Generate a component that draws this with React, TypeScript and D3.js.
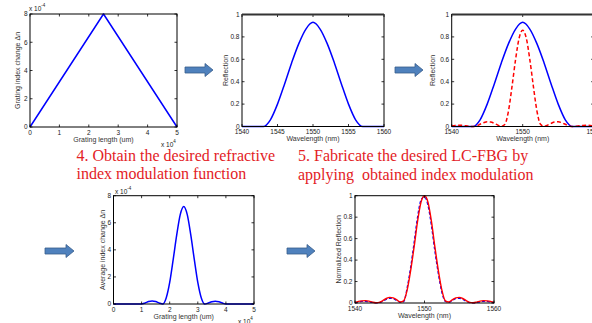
import * as d3 from 'd3';

// step 1: designed index profile (x 1e4 um, x 1e-4)
const triLen = [0, 2.5, 5];
const triDn = [0, 8, 0];

// step 2: reflection of the triangular profile
const wlCoarse = [1540, 1541, 1542, 1543, 1544, 1545, 1546, 1547, 1548, 1549, 1550, 1551, 1552, 1553, 1554, 1555, 1556, 1557, 1558, 1559, 1560];
const reflDesign = [0, 0, 0, 0, 0.06, 0.2, 0.38, 0.57, 0.74, 0.87, 0.93, 0.87, 0.74, 0.57, 0.38, 0.2, 0.06, 0, 0, 0, 0];

// step 3: target spectrum (red dashed)
const wlFine = [
  1540, 1540.5, 1541, 1541.5, 1542, 1542.5, 1543, 1543.5, 1544, 1544.5,
  1545, 1545.5, 1546, 1546.5, 1547, 1547.5, 1548, 1548.5, 1549, 1549.5,
  1550, 1550.5, 1551, 1551.5, 1552, 1552.5, 1553, 1553.5, 1554, 1554.5,
  1555, 1555.5, 1556, 1556.5, 1557, 1557.5, 1558, 1558.5, 1559, 1559.5, 1560,
];
const reflTarget = [
  0.005, 0.01, 0.012, 0.01, 0.006, 0.002, 0, 0.006, 0.02, 0.034,
  0.042, 0.04, 0.028, 0.012, 0.002, 0.02, 0.14, 0.36, 0.6, 0.79,
  0.86, 0.79, 0.6, 0.36, 0.14, 0.02, 0.002, 0.012, 0.028, 0.04,
  0.042, 0.034, 0.02, 0.006, 0, 0.002, 0.006, 0.01, 0.012, 0.01, 0.005,
];

// step 4: obtained index modulation
const lenApod = [0, 0.5, 1.0, 1.125, 1.25, 1.375, 1.5, 1.625, 1.75, 1.875, 2.0, 2.125, 2.25, 2.375, 2.5, 2.625, 2.75, 2.875, 3.0, 3.125, 3.25, 3.375, 3.5, 3.625, 3.75, 3.875, 4.0, 4.5, 5];
const dnApod = [0, 0, 0, 0.08, 0.18, 0.22, 0.18, 0.08, 0, 0.45, 1.6, 3.3, 5.1, 6.6, 7.2, 6.6, 5.1, 3.3, 1.6, 0.45, 0, 0.08, 0.17, 0.2, 0.16, 0.07, 0, 0, 0];

// step 5: fabricated grating, normalized
const reflFab = [
  0.005, 0.015, 0.02, 0.022, 0.018, 0.008, 0.002, 0.006, 0.022, 0.042,
  0.052, 0.048, 0.03, 0.01, 0.02, 0.12, 0.3, 0.52, 0.76, 0.94,
  1.0, 0.94, 0.76, 0.52, 0.3, 0.12, 0.02, 0.01, 0.03, 0.048,
  0.052, 0.042, 0.022, 0.006, 0.002, 0.008, 0.018, 0.022, 0.02, 0.015, 0.005,
];
const reflSim = [
  0.002, 0.01, 0.015, 0.016, 0.012, 0.005, 0.001, 0.004, 0.016, 0.034,
  0.044, 0.04, 0.024, 0.007, 0.012, 0.14, 0.33, 0.56, 0.8, 0.96,
  0.99, 0.91, 0.72, 0.48, 0.27, 0.1, 0.015, 0.007, 0.024, 0.04,
  0.044, 0.034, 0.016, 0.004, 0.001, 0.005, 0.012, 0.016, 0.015, 0.01, 0.002,
];

const lengthTicks = [0, 1, 2, 3, 4, 5];
const dnTicks = [0, 2, 4, 6, 8];
const wlTicks = [1540, 1545, 1550, 1555, 1560];
const wlTicksSparse = [1540, 1550, 1560];
const reflTicks = [0, 0.2, 0.4, 0.6, 0.8, 1];

const SANS = '"Liberation Sans", Arial, sans-serif';
const SERIF = '"Liberation Serif", "Times New Roman", serif';
const RED_TEXT = '#e3211f';

type Series = { xs: number[]; ys: number[]; color: string; dash?: string; width?: number; linear?: boolean };

interface PanelProps {
  box: [number, number, number, number];
  xDomain: [number, number];
  yDomain: [number, number];
  xTicks: number[];
  yTicks: number[];
  xLabel: string;
  yLabel: string;
  yLabelX: number;
  series: Series[];
  topWidth?: number;
}

function Panel({ box, xDomain, yDomain, xTicks, yTicks, xLabel, yLabel, yLabelX, series, topWidth = 1 }: PanelProps) {
  const [l, t, r, b] = box;
  const x = d3.scaleLinear().domain(xDomain).range([l, r]);
  const y = d3.scaleLinear().domain(yDomain).range([b, t]);
  const tk = 2.5;

  return (
    <g>
      {series.map((s, k) => {
        const line = d3.line<number>()
          .x((_, i) => x(s.xs[i]))
          .y((d) => y(d))
          .curve(s.linear ? d3.curveLinear : d3.curveMonotoneX);
        return (
          <path key={k} d={line(s.ys) ?? ''} fill="none" stroke={s.color}
            strokeWidth={s.width ?? 1.5} strokeDasharray={s.dash} strokeLinejoin="round" />
        );
      })}
      {xTicks.map((v) => (
        <g key={'x' + v}>
          <line x1={x(v)} x2={x(v)} y1={b} y2={b - tk} stroke="#000" strokeWidth={0.8} />
          <line x1={x(v)} x2={x(v)} y1={t} y2={t + tk} stroke="#000" strokeWidth={0.8} />
          <text x={x(v)} y={b + 7.5} textAnchor="middle" fontSize={6.5} fill="#222">{String(v)}</text>
        </g>
      ))}
      {yTicks.map((v) => (
        <g key={'y' + v}>
          <line x1={l} x2={l + tk} y1={y(v)} y2={y(v)} stroke="#000" strokeWidth={0.8} />
          <line x1={r} x2={r - tk} y1={y(v)} y2={y(v)} stroke="#000" strokeWidth={0.8} />
          <text x={l - 2.5} y={y(v)} dy="0.35em" textAnchor="end" fontSize={6.5} fill="#222">{String(v)}</text>
        </g>
      ))}
      <rect x={l} y={t} width={r - l} height={b - t} fill="none" stroke="#000" strokeWidth={1} />
      {topWidth > 1 && <line x1={l} x2={r} y1={t} y2={t} stroke="#333" strokeWidth={topWidth} />}
      <text x={(l + r) / 2} y={b + 14.5} textAnchor="middle" fontSize={7} fill="#333">{xLabel}</text>
      <text transform={`translate(${yLabelX},${(t + b) / 2}) rotate(-90)`} textAnchor="middle" fontSize={7} fill="#333">{yLabel}</text>
    </g>
  );
}

function Mult({ x, y, exp }: { x: number; y: number; exp: string }) {
  return (
    <text x={x} y={y} fontSize={6.5} fill="#222">
      x 10<tspan dy={-4.5} fontSize={4.5}>{exp}</tspan>
    </text>
  );
}

function Arrow({ x, y, len }: { x: number; y: number; len: number }) {
  const h = 8;
  const d = `M${x},${y - 3}L${x + len - h},${y - 3}L${x + len - h},${y - 6.5}L${x + len},${y}L${x + len - h},${y + 6.5}L${x + len - h},${y + 3}L${x},${y + 3}Z`;
  return <path d={d} fill="#4f81bd" stroke="#385d8a" strokeWidth={0.8} />;
}

export default function App() {
  return (
    <svg width={592} height={323} viewBox="0 0 592 323"
      style={{ position: 'absolute', left: 0, top: 0, background: '#fff', overflow: 'hidden' }}
      fontFamily={SANS}>
      <Panel box={[30, 14, 177, 127]} xDomain={[0, 5]} yDomain={[0, 8]}
        xTicks={lengthTicks} yTicks={[0, 2, 4, 6, 8]}
        xLabel="Grating length (um)" yLabel="Grating index change  Δn" yLabelX={19.5}
        series={[{ xs: triLen, ys: triDn, color: '#0000ff', linear: true }]} />
      <Mult x={29} y={11} exp="-4" />
      <Mult x={161} y={147} exp="4" />

      <Panel box={[242, 14.5, 384, 126.5]} xDomain={[1540, 1560]} yDomain={[0, 1]}
        xTicks={wlTicks} yTicks={reflTicks} topWidth={2}
        xLabel="Wavelength (nm)" yLabel="Reflection" yLabelX={227.5}
        series={[{ xs: wlCoarse, ys: reflDesign, color: '#0000ff' }]} />

      <Panel box={[451.7, 14.5, 593.7, 126.5]} xDomain={[1540, 1560]} yDomain={[0, 1]}
        xTicks={wlTicksSparse} yTicks={reflTicks} topWidth={2}
        xLabel="Wavelength (nm)" yLabel="Reflection" yLabelX={435}
        series={[
          { xs: wlCoarse, ys: reflDesign, color: '#0000ff' },
          { xs: wlFine, ys: reflTarget, color: '#ff0000', dash: '4,2.5' },
        ]} />

      <Arrow x={185} y={70} len={28} />
      <Arrow x={395} y={70} len={28} />

      <text fontFamily={SERIF} fontSize={16} fill={RED_TEXT} style={{ whiteSpace: 'pre' }}>
        <tspan x={76.5} y={160.5}>4. Obtain the desired refractive</tspan>
        <tspan x={76.5} y={179}>index modulation function</tspan>
      </text>
      <text fontFamily={SERIF} fontSize={16} fill={RED_TEXT} style={{ whiteSpace: 'pre' }}>
        <tspan x={298} y={161}>5. Fabricate the desired LC-FBG by</tspan>
        <tspan x={298} y={179.5}>applying  obtained index modulation</tspan>
      </text>

      <Panel box={[113.5, 195.7, 254, 304]} xDomain={[0, 5]} yDomain={[0, 8]}
        xTicks={lengthTicks} yTicks={dnTicks}
        xLabel="Grating length (um)" yLabel="Average index change  Δn" yLabelX={105}
        series={[{ xs: lenApod, ys: dnApod, color: '#0000ff' }]} />
      <Mult x={115} y={194} exp="-4" />
      <Mult x={238} y={324} exp="4" />

      <Panel box={[355, 195.7, 494, 303]} xDomain={[1540, 1560]} yDomain={[0, 1]}
        xTicks={wlTicksSparse} yTicks={reflTicks}
        xLabel="Wavelength (nm)" yLabel="Normalized Reflection" yLabelX={341}
        series={[
          { xs: wlFine, ys: reflSim, color: '#0000ff', dash: '3,2', width: 1.3 },
          { xs: wlFine, ys: reflFab, color: '#ff0000', width: 1.4 },
        ]} />

      <Arrow x={45} y={251} len={29} />
      <Arrow x={287} y={251} len={28} />
    </svg>
  );
}
